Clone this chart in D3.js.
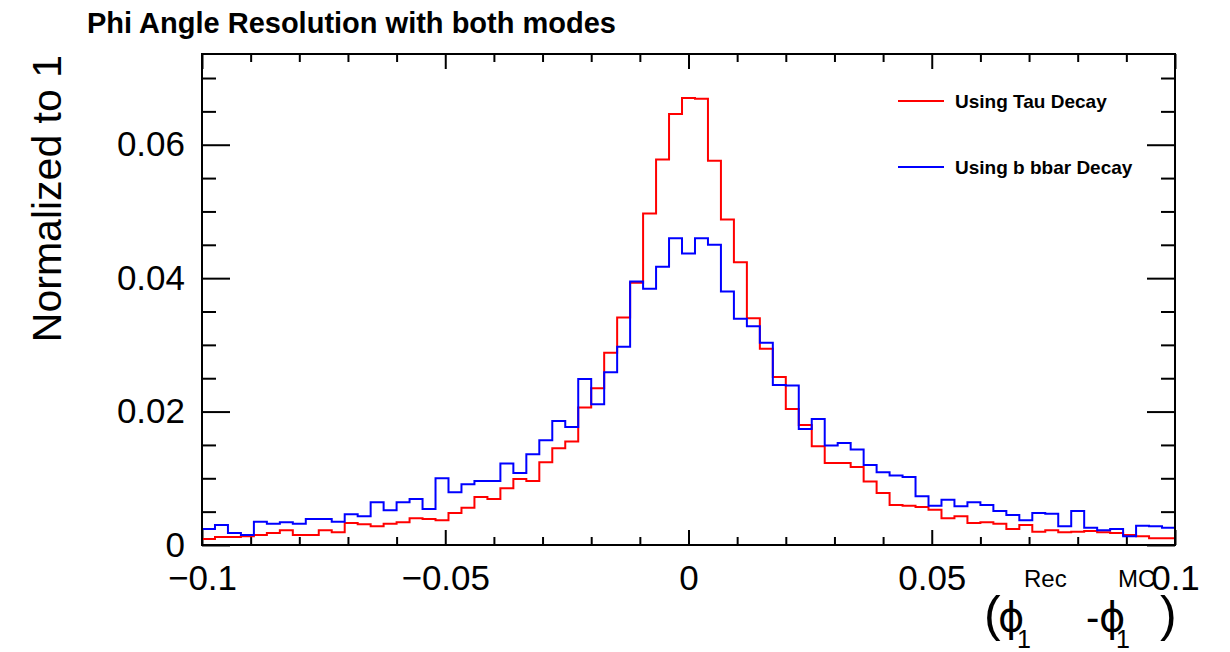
<!DOCTYPE html>
<html lang="en">
<head>
  <meta charset="UTF-8">
  <title>Phi Angle Resolution with both modes</title>
  <script src="https://d3js.org/d3.v7.min.js"></script>
  <style>
    body {
      margin: 0;
      padding: 0;
      background: #ffffff;
      font-family: 'Liberation Sans', Arial, Helvetica, sans-serif;
    }
    .axis path { display: none; }
    .axis line { stroke: #000; stroke-width: 2; }
    .axis text { font-size: 35px; fill: #000; font-family: 'Liberation Sans', Arial, sans-serif; }
    .frame { fill: none; stroke: #000; stroke-width: 2; }
    .hist { fill: none; stroke-width: 2; }
    .title { font-size: 29px; font-weight: bold; }
    .legend text { font-size: 19px; font-weight: bold; }
  </style>
</head>
<body>
  <div id="chart"></div>
  <script>
    const width = 1230;
    const height = 652;
    const margin = { top: 54, right: 55, bottom: 107, left: 202 };

    // 75 bins from -0.1 to 0.1
    const nBins = 75;
    const xMin = -0.1;
    const xMax = 0.1;

    const tauDecay = [
      0.0009, 0.0012, 0.0012, 0.0013, 0.0015, 0.0018, 0.0022, 0.0015, 0.0015, 0.0022,
      0.0019, 0.0033, 0.0031, 0.0028, 0.0032, 0.0034, 0.0040, 0.0039, 0.0037, 0.0048,
      0.0056, 0.0072, 0.0069, 0.0085, 0.0099, 0.0096, 0.0124, 0.0145, 0.0155, 0.0206,
      0.0235, 0.0288, 0.0341, 0.0393, 0.0497, 0.0578, 0.0646, 0.0670, 0.0669, 0.0576,
      0.0488, 0.0424, 0.0340, 0.0294, 0.0252, 0.0204, 0.0180, 0.0148, 0.0123, 0.0123,
      0.0117, 0.0095, 0.0078, 0.0060, 0.0059, 0.0057, 0.0053, 0.0040, 0.0043, 0.0033,
      0.0034, 0.0032, 0.0024, 0.0030, 0.0020, 0.0022, 0.0019, 0.0020, 0.0021, 0.0019,
      0.0018, 0.0015, 0.0013, 0.0010, 0.0010
    ];

    const bbbarDecay = [
      0.0024, 0.0030, 0.0018, 0.0015, 0.0035, 0.0032, 0.0034, 0.0032, 0.0039, 0.0039,
      0.0035, 0.0046, 0.0043, 0.0064, 0.0052, 0.0064, 0.0069, 0.0054, 0.0100, 0.0079,
      0.0091, 0.0096, 0.0096, 0.0122, 0.0108, 0.0136, 0.0157, 0.0186, 0.0177, 0.0249,
      0.0211, 0.0259, 0.0297, 0.0395, 0.0384, 0.0417, 0.0460, 0.0437, 0.0460, 0.0450,
      0.0380, 0.0339, 0.0328, 0.0303, 0.0240, 0.0239, 0.0174, 0.0189, 0.0149, 0.0153,
      0.0143, 0.0120, 0.0109, 0.0104, 0.0102, 0.0073, 0.0059, 0.0068, 0.0058, 0.0064,
      0.0060, 0.0051, 0.0045, 0.0037, 0.0048, 0.0047, 0.0028, 0.0051, 0.0026, 0.0022,
      0.0024, 0.0013, 0.0029, 0.0028, 0.0026
    ];

    const seriesNames = ["Using Tau Decay", "Using b bbar Decay"];
    const seriesColors = ["#ff0000", "#0000ff"];

    const xMajorTicks = [-0.1, -0.05, 0, 0.05, 0.1];
    const xTickLabels = ["\u22120.1", "\u22120.05", "0", "0.05", "0.1"];
    const yMajorTicks = [0, 0.02, 0.04, 0.06];
    const yTickLabels = ["0", "0.02", "0.04", "0.06"];
    const yMax = 0.0736;

    const svg = d3.select("#chart")
      .append("svg")
      .attr("width", width)
      .attr("height", height);

    const x = d3.scaleLinear()
      .domain([xMin, xMax])
      .range([margin.left, width - margin.right]);

    const y = d3.scaleLinear()
      .domain([0, yMax])
      .range([height - margin.bottom, margin.top]);

    const binW = (xMax - xMin) / nBins;

    // step outline, ROOT style
    function histPath(vals) {
      let pts = [[xMin, 0]];
      vals.forEach((v, i) => {
        pts.push([xMin + i * binW, v]);
        pts.push([xMin + (i + 1) * binW, v]);
      });
      pts.push([xMax, 0]);
      return d3.line().x(d => x(d[0])).y(d => y(d[1]))(pts);
    }

    const xMinor = d3.range(-10, 11).map(d => d / 100).filter(d => !xMajorTicks.some(t => Math.abs(t - d) < 1e-9));
    const yMinor = d3.range(0, 15).map(d => d * 0.005).filter(d => d < yMax && !yMajorTicks.some(t => Math.abs(t - d) < 1e-9));

    const x0 = x.range()[0], x1 = x.range()[1];
    const y0 = y.range()[0], y1 = y.range()[1];

    // bottom axis
    svg.append("g").attr("class", "axis")
      .attr("transform", `translate(0,${y0})`)
      .call(d3.axisBottom(x).tickValues(xMajorTicks).tickSize(-15).tickPadding(20)
        .tickFormat((d, i) => xTickLabels[i]));
    svg.append("g").attr("class", "axis")
      .attr("transform", `translate(0,${y0})`)
      .call(d3.axisBottom(x).tickValues(xMinor).tickSize(-8).tickFormat(""));
    // top ticks
    svg.append("g").attr("class", "axis")
      .attr("transform", `translate(0,${y1})`)
      .call(d3.axisTop(x).tickValues(xMajorTicks).tickSize(-15).tickFormat(""));
    svg.append("g").attr("class", "axis")
      .attr("transform", `translate(0,${y1})`)
      .call(d3.axisTop(x).tickValues(xMinor).tickSize(-8).tickFormat(""));

    // left axis
    svg.append("g").attr("class", "axis")
      .attr("transform", `translate(${x0},0)`)
      .call(d3.axisLeft(y).tickValues(yMajorTicks).tickSize(-28).tickPadding(17)
        .tickFormat((d, i) => yTickLabels[i]));
    svg.append("g").attr("class", "axis")
      .attr("transform", `translate(${x0},0)`)
      .call(d3.axisLeft(y).tickValues(yMinor).tickSize(-14).tickFormat(""));
    // right ticks
    svg.append("g").attr("class", "axis")
      .attr("transform", `translate(${x1},0)`)
      .call(d3.axisRight(y).tickValues(yMajorTicks).tickSize(-28).tickFormat(""));
    svg.append("g").attr("class", "axis")
      .attr("transform", `translate(${x1},0)`)
      .call(d3.axisRight(y).tickValues(yMinor).tickSize(-14).tickFormat(""));

    // histograms
    [tauDecay, bbbarDecay].forEach((vals, i) => {
      svg.append("path")
        .attr("class", "hist")
        .attr("d", histPath(vals))
        .attr("stroke", seriesColors[i]);
    });

    // frame
    svg.append("rect")
      .attr("class", "frame")
      .attr("x", x0).attr("y", y1)
      .attr("width", x1 - x0).attr("height", y0 - y1);

    // title
    svg.append("text")
      .attr("class", "title")
      .attr("x", 87).attr("y", 33)
      .text("Phi Angle Resolution with both modes");

    // y axis title
    svg.append("text")
      .attr("transform", "translate(61,55) rotate(-90)")
      .attr("text-anchor", "end")
      .style("font-size", "41px")
      .text("Normalized to 1");

    // x axis title, pieces placed like TLatex
    const xTitle = svg.append("g").attr("class", "xtitle").style("fill", "#000");
    const parts = [
      { t: "(", x: 984, y: 631, s: 50, f: "Liberation Sans" },
      { t: "\u03d5", x: 998, y: 631, s: 40, f: "DejaVu Sans" },
      { t: "Rec", x: 1024, y: 587, s: 24, f: "Liberation Sans" },
      { t: "1", x: 1017, y: 648, s: 25, f: "Liberation Sans" },
      { t: "-", x: 1086, y: 631, s: 40, f: "Liberation Sans" },
      { t: "\u03d5", x: 1099, y: 631, s: 40, f: "DejaVu Sans" },
      { t: "MC", x: 1118, y: 587, s: 24, f: "Liberation Sans" },
      { t: "1", x: 1116, y: 648, s: 25, f: "Liberation Sans" },
      { t: ")", x: 1160, y: 631, s: 50, f: "Liberation Sans" }
    ];
    parts.forEach(p => {
      xTitle.append("text").attr("x", p.x).attr("y", p.y)
        .style("font-size", p.s + "px")
        .style("font-family", `'${p.f}', sans-serif`)
        .text(p.t);
    });

    // legend
    const legend = svg.append("g").attr("class", "legend");
    const legendY = [101, 167];
    seriesNames.forEach((name, i) => {
      legend.append("line")
        .attr("x1", 898).attr("x2", 944)
        .attr("y1", legendY[i]).attr("y2", legendY[i])
        .attr("stroke", seriesColors[i]).attr("stroke-width", 2);
      legend.append("text")
        .attr("x", 955).attr("y", legendY[i] + 7)
        .text(name);
    });
  </script>
</body>
</html>
